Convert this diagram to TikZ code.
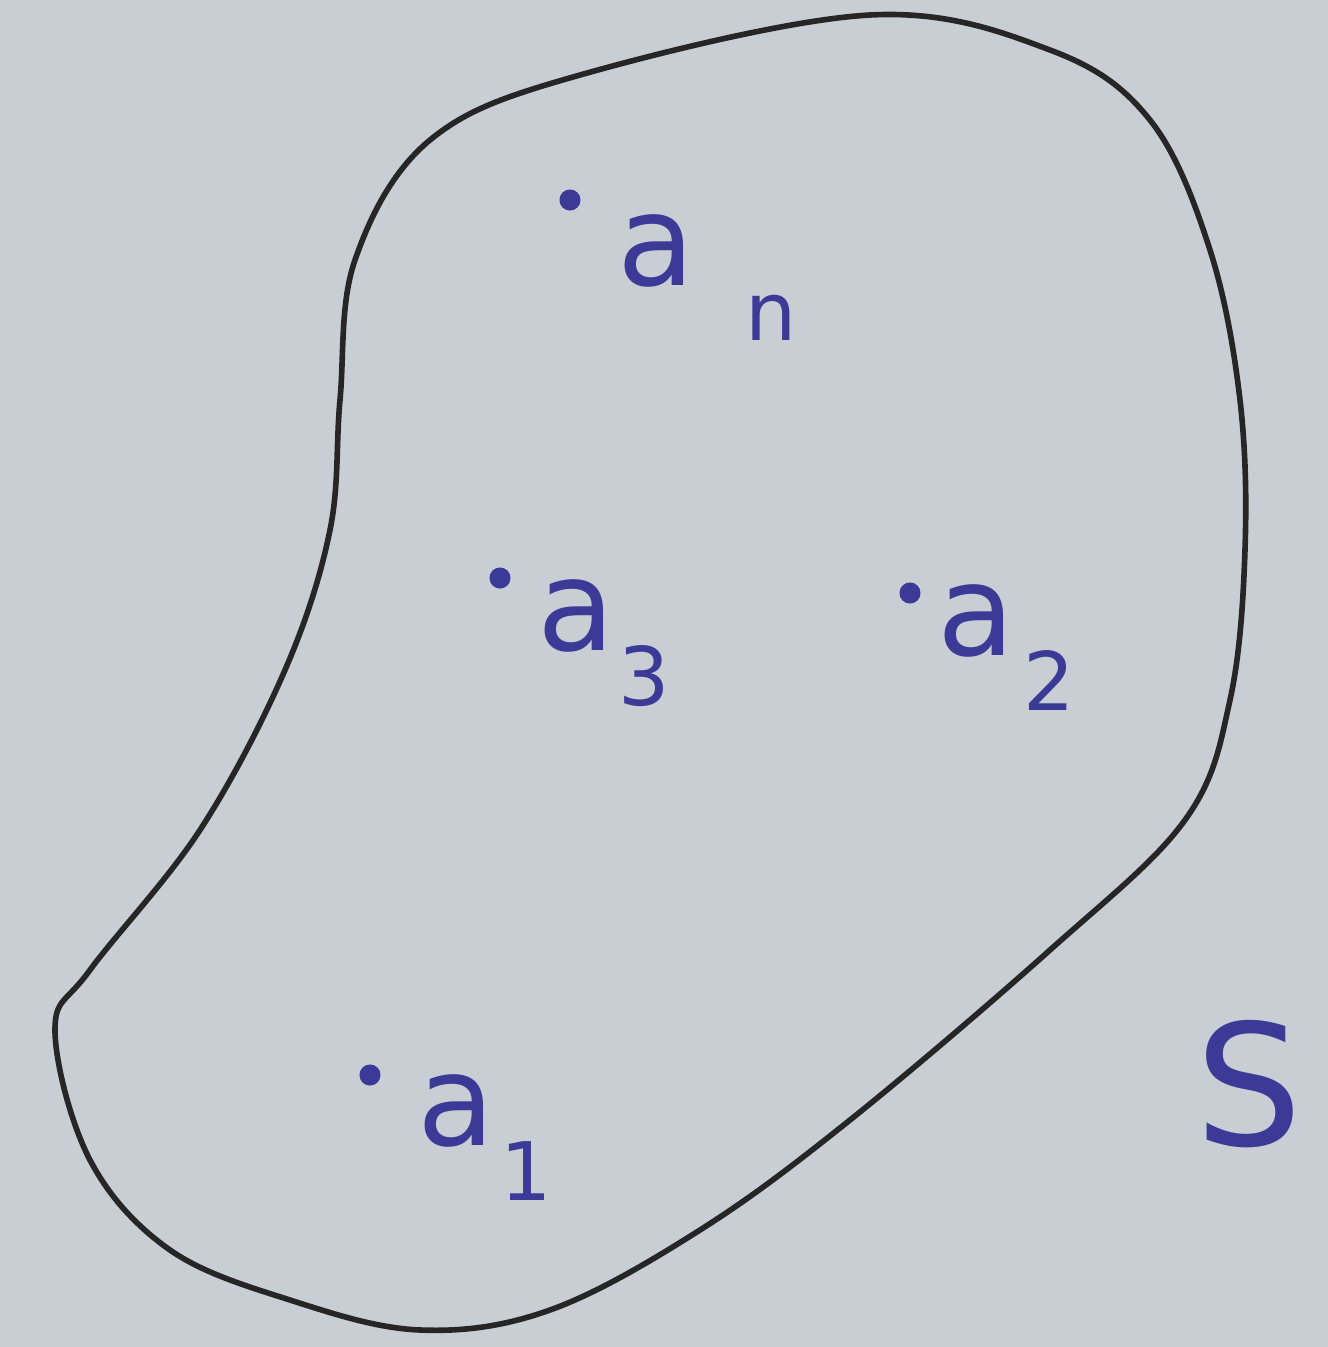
\documentclass[tikz,border=0pt]{standalone}
\usepackage{fontspec}
\setmainfont{DejaVu Sans}
\definecolor{paper}{HTML}{C9CED4}
\definecolor{ink}{HTML}{3B3A96}
% element name with a low hand-written subscript
\newcommand{\eltname}[2]{a\kern#2\raisebox{-5.5mm}{\fontsize{23}{25}\selectfont #1}}
\begin{document}
\begin{tikzpicture}[
  blob/.style={draw=black!85, line width=1.6pt},
  pt/.style={circle, fill=ink, inner sep=0pt, minimum size=6pt},
  lbl/.style={text=ink, anchor=base west, inner sep=0pt, font=\fontsize{36}{40}\selectfont},
  setname/.style={text=ink, anchor=base west, inner sep=0pt, font=\fontsize{48}{52}\selectfont},
]
  \fill[paper] (0,0) rectangle (13.28,-13.47);
  \useasboundingbox (0,0) rectangle (13.28,-13.47);

  % the set S
  \draw[blob] plot[smooth cycle, tension=0.6] coordinates {
    (8.70,-0.15) (10.50,-0.50) (11.50,-1.20) (12.10,-2.50) (12.40,-4.00)
    (12.45,-5.50) (12.30,-7.00) (11.85,-8.20) (10.50,-9.50) (8.50,-11.20)
    (7.00,-12.30) (5.50,-13.10) (4.20,-13.30) (2.90,-13.00) (1.70,-12.50)
    (0.90,-11.60) (0.55,-10.30) (0.90,-9.70) (2.00,-8.30) (2.85,-6.70)
    (3.30,-5.30) (3.40,-4.00) (3.55,-2.60) (4.30,-1.40) (5.80,-0.75)
  };

  % elements
  \node[pt] (dn) at (5.70,-2.00) {};
  \node[lbl] (ln) at (6.17,-2.85) {\eltname{n}{5mm}};
  \node[pt] (d3) at (5.00,-5.78) {};
  \node[lbl] (l3) at (5.37,-6.50) {\eltname{3}{0.3mm}};
  \node[pt] (d2) at (9.10,-5.93) {};
  \node[lbl] (l2) at (9.37,-6.55) {\eltname{2}{0.8mm}};
  \node[pt] (d1) at (3.70,-10.75) {};
  \node[lbl] (l1) at (4.17,-11.45) {\eltname{1}{0.5mm}};

  \node[setname] (s) at (11.95,-11.45) {S};
\end{tikzpicture}
\end{document}
